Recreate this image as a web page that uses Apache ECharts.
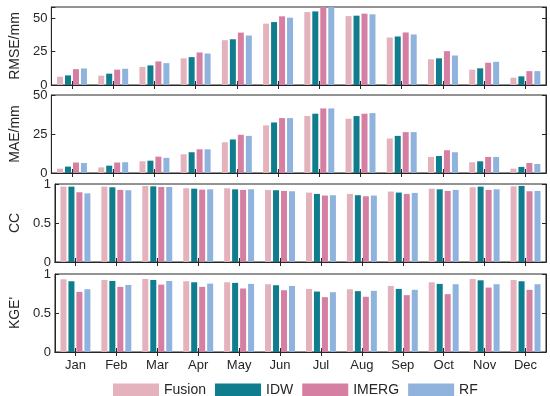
<!DOCTYPE html>
<html>
<head>
<meta charset="utf-8">
<script src="https://cdn.jsdelivr.net/npm/echarts@6/dist/echarts.min.js"></script>
<style>
html,body{margin:0;padding:0;background:#fff;}
#chart{width:550px;height:396px;}
</style>
</head>
<body>
<div id="chart"></div>
<script>
const months = ['Jan','Feb','Mar','Apr','May','Jun','Jul','Aug','Sep','Oct','Nov','Dec'];
const seriesNames = ['Fusion','IDW','IMERG','RF'];
const seriesColors = ['#E4B2BD','#0F7D8E','#D57FA2','#8FB3DC'];

// RMSE (mm)
const rmseFusion = [6.2, 7.0, 13.6, 20.0, 33.6, 46.0, 54.7, 51.7, 35.6, 19.3, 11.5, 5.5];
const rmseIDW    = [7.2, 8.5, 14.7, 20.9, 34.3, 47.2, 55.2, 52.0, 36.4, 20.0, 12.5, 6.5];
const rmseIMERG  = [11.9, 11.5, 17.7, 24.4, 39.3, 51.5, 59.5, 53.5, 39.4, 25.4, 16.7, 10.4];
const rmseRF     = [12.4, 12.2, 16.4, 23.6, 37.1, 50.5, 58.5, 53.0, 37.9, 22.1, 17.4, 10.4];

// MAE (mm)
const maeFusion = [2.8, 3.6, 7.5, 12.0, 19.7, 30.5, 36.5, 34.8, 22.1, 10.3, 6.9, 2.8];
const maeIDW    = [4.1, 4.7, 7.9, 13.3, 21.5, 32.4, 38.0, 36.5, 23.8, 10.9, 7.5, 3.9];
const maeIMERG  = [6.7, 6.7, 10.5, 15.2, 24.5, 35.2, 41.4, 38.0, 26.2, 14.6, 10.3, 6.4];
const maeRF     = [6.4, 6.9, 9.7, 15.2, 23.8, 35.2, 41.4, 38.4, 26.2, 13.3, 10.3, 5.8];

// CC
const ccFusion = [0.966, 0.966, 0.975, 0.945, 0.945, 0.924, 0.890, 0.873, 0.903, 0.940, 0.958, 0.970];
const ccIDW    = [0.966, 0.958, 0.970, 0.940, 0.932, 0.920, 0.873, 0.856, 0.890, 0.932, 0.966, 0.975];
const ccIMERG  = [0.894, 0.924, 0.962, 0.928, 0.924, 0.911, 0.852, 0.843, 0.873, 0.911, 0.924, 0.907];
const ccRF     = [0.880, 0.920, 0.962, 0.932, 0.932, 0.907, 0.856, 0.852, 0.886, 0.924, 0.932, 0.911];

// KGE'
const kgeFusion = [0.932, 0.924, 0.936, 0.907, 0.894, 0.869, 0.809, 0.805, 0.847, 0.894, 0.936, 0.924];
const kgeIDW    = [0.907, 0.911, 0.924, 0.894, 0.886, 0.856, 0.775, 0.780, 0.809, 0.873, 0.919, 0.907];
const kgeIMERG  = [0.771, 0.835, 0.864, 0.835, 0.814, 0.792, 0.703, 0.708, 0.729, 0.742, 0.826, 0.797];
const kgeRF     = [0.805, 0.860, 0.911, 0.877, 0.873, 0.847, 0.767, 0.784, 0.797, 0.869, 0.869, 0.869];

const panels = [
  {label:'RMSE/mm', max:58.5, interval:25, data:[rmseFusion, rmseIDW, rmseIMERG, rmseRF]},
  {label:'MAE/mm',  max:50,   interval:25, data:[maeFusion, maeIDW, maeIMERG, maeRF]},
  {label:'CC',      max:1,    interval:0.5, data:[ccFusion, ccIDW, ccIMERG, ccRF]},
  {label:"KGE'",    max:1,    interval:0.5, data:[kgeFusion, kgeIDW, kgeIMERG, kgeRF]}
];

const gridTops = [7, 95, 184, 274];
const gridH = 78;
const ink = '#262626';
const fontFam = '"Liberation Sans", Arial, Helvetica, sans-serif';

const grid = [], xAxis = [], yAxis = [], series = [];
panels.forEach((p, i) => {
  grid.push({left:41, right:4, top:gridTops[i], height:gridH, show:true, borderColor:ink, borderWidth:1, backgroundColor:'transparent'});
  const isLast = i === panels.length - 1;
  xAxis.push({
    type:'category', gridIndex:i, data:months, position:'bottom',
    axisLine:{show:true, lineStyle:{color:ink, width:1}},
    axisTick:{show:true, inside:true, alignWithLabel:true, length:4, lineStyle:{color:ink}},
    axisLabel:{show:isLast, color:ink, fontSize:13, fontFamily:fontFam, margin:7},
    splitLine:{show:false}
  });
  xAxis.push({
    type:'category', gridIndex:i, data:months, position:'top',
    axisLine:{show:true, lineStyle:{color:ink, width:1}},
    axisTick:{show:true, inside:true, alignWithLabel:true, length:4, lineStyle:{color:ink}},
    axisLabel:{show:false}, splitLine:{show:false}
  });
  const iv = p.interval;
  yAxis.push({
    type:'value', gridIndex:i, min:0, max:p.max, interval:iv, position:'left',
    name:p.label, nameLocation:'middle', nameGap:24, nameRotate:90,
    nameTextStyle:{color:ink, fontSize:14, fontFamily:fontFam},
    axisLine:{show:true, lineStyle:{color:ink, width:1}},
    axisTick:{show:true, inside:true, length:4, lineStyle:{color:ink}},
    axisLabel:{color:ink, fontSize:13, fontFamily:fontFam, margin:4,
      formatter:function(v){ const r = v/iv; return Math.abs(r-Math.round(r))<1e-6 ? String(v) : ''; }},
    splitLine:{show:false}
  });
  yAxis.push({
    type:'value', gridIndex:i, min:0, max:p.max, interval:iv, position:'right',
    axisLine:{show:true, lineStyle:{color:ink, width:1}},
    axisTick:{show:true, inside:true, length:4, lineStyle:{color:ink}},
    axisLabel:{show:false}, splitLine:{show:false}
  });
  p.data.forEach((arr, k) => {
    series.push({
      type:'bar', name:seriesNames[k], xAxisIndex:i*2, yAxisIndex:i*2,
      data:arr, barWidth:6, barGap:'33%', clip:true,
      itemStyle:{color:seriesColors[k]},
      emphasis:{disabled:true}
    });
  });
});

const chart = echarts.init(document.getElementById('chart'), null, {renderer:'canvas'});
chart.setOption({
  animation:false,
  backgroundColor:'#fff',
  color:seriesColors,
  grid, xAxis, yAxis, series,
  legend:{
    data:seriesNames, left:108, top:378, itemWidth:46, itemHeight:13, itemGap:9,
    icon:'rect',
    textStyle:{color:ink, fontSize:14, fontFamily:fontFam, padding:[0,0,0,0]},
    selectedMode:false
  }
});
</script>
</body>
</html>
